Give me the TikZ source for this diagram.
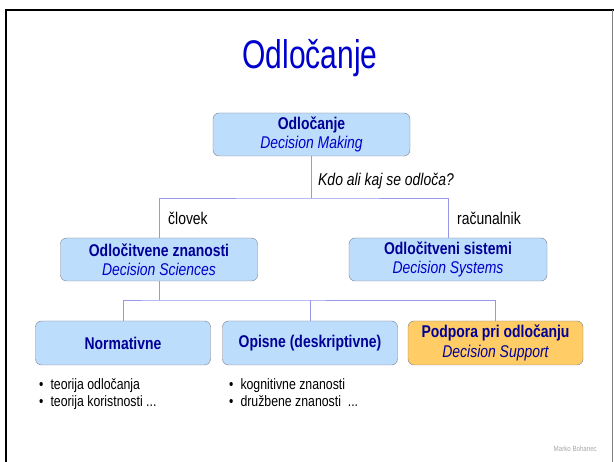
\documentclass[tikz,border=0pt]{standalone}
\usepackage{fontspec}
\setmainfont[FakeStretch=0.82]{Liberation Sans}
\newfontfamily\titlefont[FakeStretch=0.75]{Liberation Sans}
\definecolor{boxfill}{RGB}{189,221,252}
\definecolor{boxline}{RGB}{125,125,140}
\definecolor{orangefill}{RGB}{255,204,102}
\definecolor{navy}{RGB}{0,0,150}
\definecolor{itblue}{RGB}{0,0,200}
\definecolor{titleblue}{RGB}{0,0,204}
\definecolor{linkcol}{RGB}{150,150,235}
\begin{document}
\begin{tikzpicture}[x=1pt,y=-1pt,
  box/.style={draw=boxline, fill=boxfill, rounded corners=6pt, minimum width=197pt,
    minimum height=43pt, align=center, inner sep=0pt,
    font=\fontsize{17}{19.5}\selectfont},
  lowbox/.style={box, minimum width=175pt, minimum height=44pt},
  link/.style={draw=linkcol, line width=0.8pt},
  lbl/.style={anchor=west, inner sep=0pt, font=\fontsize{17}{19.5}\selectfont},
  blist/.style={anchor=north west, inner sep=0pt, align=left,
    font=\fontsize{15}{17}\selectfont}]
\useasboundingbox (0,0) rectangle (614,462);
% frame
\draw[line width=2pt] (6,462) -- (6,10) -- (614,10);
\draw[gray, line width=1pt] (612,10) -- (612,462);
% title
\node[text=titleblue, font=\titlefont\fontsize{40}{44}\selectfont] (title) at (310,58) {Odločanje};
% boxes
\node[box] (top) at (311.5,134.5) {\textcolor{navy}{\bfseries Odločanje}\\\textcolor{itblue}{\itshape Decision Making}};
\node[box] (sci) at (159,259.5) {\textcolor{navy}{\bfseries Odločitvene znanosti}\\\textcolor{itblue}{\itshape Decision Sciences}};
\node[box, minimum width=198pt] (sys) at (448,259.5) {\textcolor{navy}{\bfseries Odločitveni sistemi}\\\textcolor{itblue}{\itshape Decision Systems}};
\node[lowbox] (norm) at (123,343) {\textcolor{navy}{\bfseries Normativne}};
\node[lowbox] (opis) at (310,343) {\textcolor{navy}{\bfseries Opisne (deskriptivne)}};
\node[lowbox, fill=orangefill] (pod) at (495.5,343) {\textcolor{navy}{\bfseries Podpora pri odločanju}\\\textcolor{navy}{\itshape Decision Support}};
% connectors
\coordinate (j1) at (311,198);
\coordinate (j2) at (159,300);
\draw[link] (top.south -| j1) -- (j1);
\draw[link] (sci.north) |- (j1) -| (sys.north);
\draw[link] (sci.south) -- (j2);
\draw[link] (norm.north) |- (j2) -| (pod.north);
\draw[link] (opis.north) -- (opis.north |- j2);
% labels
\node[lbl, font=\fontsize{17}{19.5}\selectfont\itshape] (q) at (318,181) {Kdo ali kaj se odloča?};
\node[lbl] (clov) at (168,218) {človek};
\node[lbl] (rac) at (457,218) {računalnik};
% bullet lists
\node[blist] (l1) at (39,378) {\textbullet\hspace{7pt}teorija odločanja\\\textbullet\hspace{7pt}teorija koristnosti ...};
\node[blist] (l2) at (229,378) {\textbullet\hspace{7pt}kognitivne znanosti\\\textbullet\hspace{7pt}družbene znanosti\ \ ...};
\node[anchor=east, inner sep=0pt, text=gray!70, font=\fontsize{7.5}{9}\selectfont] (auth) at (597,449) {Marko Bohanec};
\end{tikzpicture}
\end{document}
